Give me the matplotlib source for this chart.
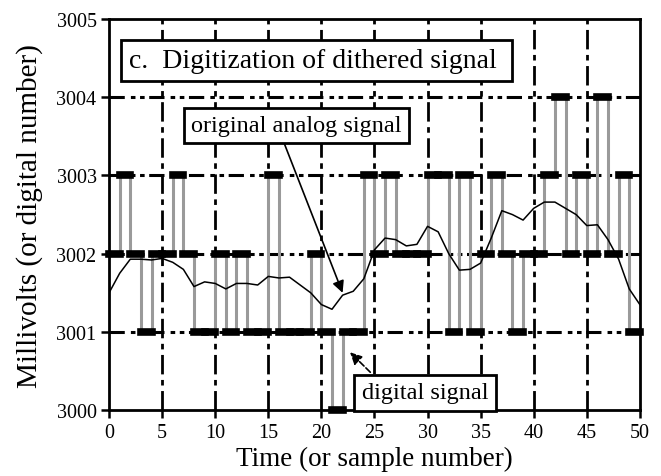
import matplotlib.pyplot as plt
import numpy as np

plt.rcParams["font.family"] = ["Liberation Serif", "DejaVu Serif"]

# digitized (dithered) samples, one per time step 0..49
sample_t = np.arange(50)
digital = [3002, 3003, 3002, 3001, 3002, 3002, 3003, 3002, 3001, 3001,
           3002, 3001, 3002, 3001, 3001, 3003, 3001, 3001, 3001, 3002,
           3001, 3000, 3001, 3001, 3003, 3002, 3003, 3002, 3002, 3002,
           3003, 3003, 3001, 3003, 3001, 3002, 3003, 3002, 3001, 3002,
           3002, 3003, 3004, 3002, 3003, 3002, 3004, 3002, 3003, 3001]

# original analog signal
analog_t = np.arange(51)
analog = [3001.50, 3001.75, 3001.93, 3001.93, 3001.92, 3001.94, 3001.89, 3001.80,
          3001.58, 3001.64, 3001.62, 3001.55, 3001.62, 3001.62, 3001.60, 3001.71,
          3001.69, 3001.70, 3001.60, 3001.50, 3001.35, 3001.29, 3001.47, 3001.52,
          3001.68, 3002.05, 3002.20, 3002.18, 3002.10, 3002.12, 3002.35, 3002.28,
          3002.00, 3001.79, 3001.80, 3001.88, 3002.20, 3002.55, 3002.50, 3002.43,
          3002.58, 3002.66, 3002.66, 3002.58, 3002.50, 3002.36, 3002.37, 3002.18,
          3001.93, 3001.55, 3001.35]

fig = plt.figure(figsize=(6.61, 4.77), dpi=100)
ax = fig.add_axes([0.165, 0.138, 0.803, 0.82])

# grid
for x in range(5, 50, 5):
    ax.axvline(x, color="k", lw=2, ls=(0, (7, 2, 2, 2)), zorder=1)
for y in range(3001, 3005):
    ax.axhline(y, color="k", lw=2.2, ls=(0, (5, 2, 1.5, 1.5, 1.5, 1.5)), zorder=1)

# digital signal: vertical transitions + thick hold segments
d = np.array(digital)
ax.vlines(sample_t[1:], d[:-1], d[1:], color="#9a9a9a", lw=2.2, zorder=2)
ax.hlines(d, sample_t, sample_t + 1, color="k", lw=5.5,
          capstyle="projecting", zorder=3, clip_on=False)

# analog signal
ax.plot(analog_t, analog, color="k", lw=1.1, zorder=4)

ax.set_xlim(0, 50)
ax.set_ylim(3000, 3005)
ax.set_xticks(range(0, 51, 5))
ax.set_yticks(range(3000, 3006))
ax.tick_params(direction="out", length=6, width=1.8, labelsize=14.5, pad=3)
for s in ax.spines.values():
    s.set_linewidth(2)

ax.set_xlabel("Time (or sample number)", fontsize=19.5, labelpad=3)
ax.set_ylabel("Millivolts (or digital number)", fontsize=21, labelpad=10)

box = dict(boxstyle="square,pad=0.3", fc="white", ec="k", lw=2)
ax.text(1.9, 3004.47, "c.  Digitization of dithered signal ", fontsize=20,
        va="center", ha="left", bbox=box, zorder=6)

ax.annotate("original analog signal", xy=(22.0, 3001.5), xytext=(7.7, 3003.64),
            fontsize=17.5, va="center", ha="left", bbox=box, zorder=6,
            arrowprops=dict(arrowstyle="-|>", color="k", lw=1.2,
                            relpos=(0.43, 0.0), shrinkA=0, shrinkB=0))
ax.annotate("digital signal", xy=(22.7, 3000.74), xytext=(23.8, 3000.22),
            fontsize=17.5, va="center", ha="left", bbox=box, zorder=6,
            arrowprops=dict(arrowstyle="-|>", color="k", lw=1.2, ls="--",
                            relpos=(0.15, 1.0), shrinkA=2, shrinkB=0))

fig.savefig("out.png", dpi=100)
